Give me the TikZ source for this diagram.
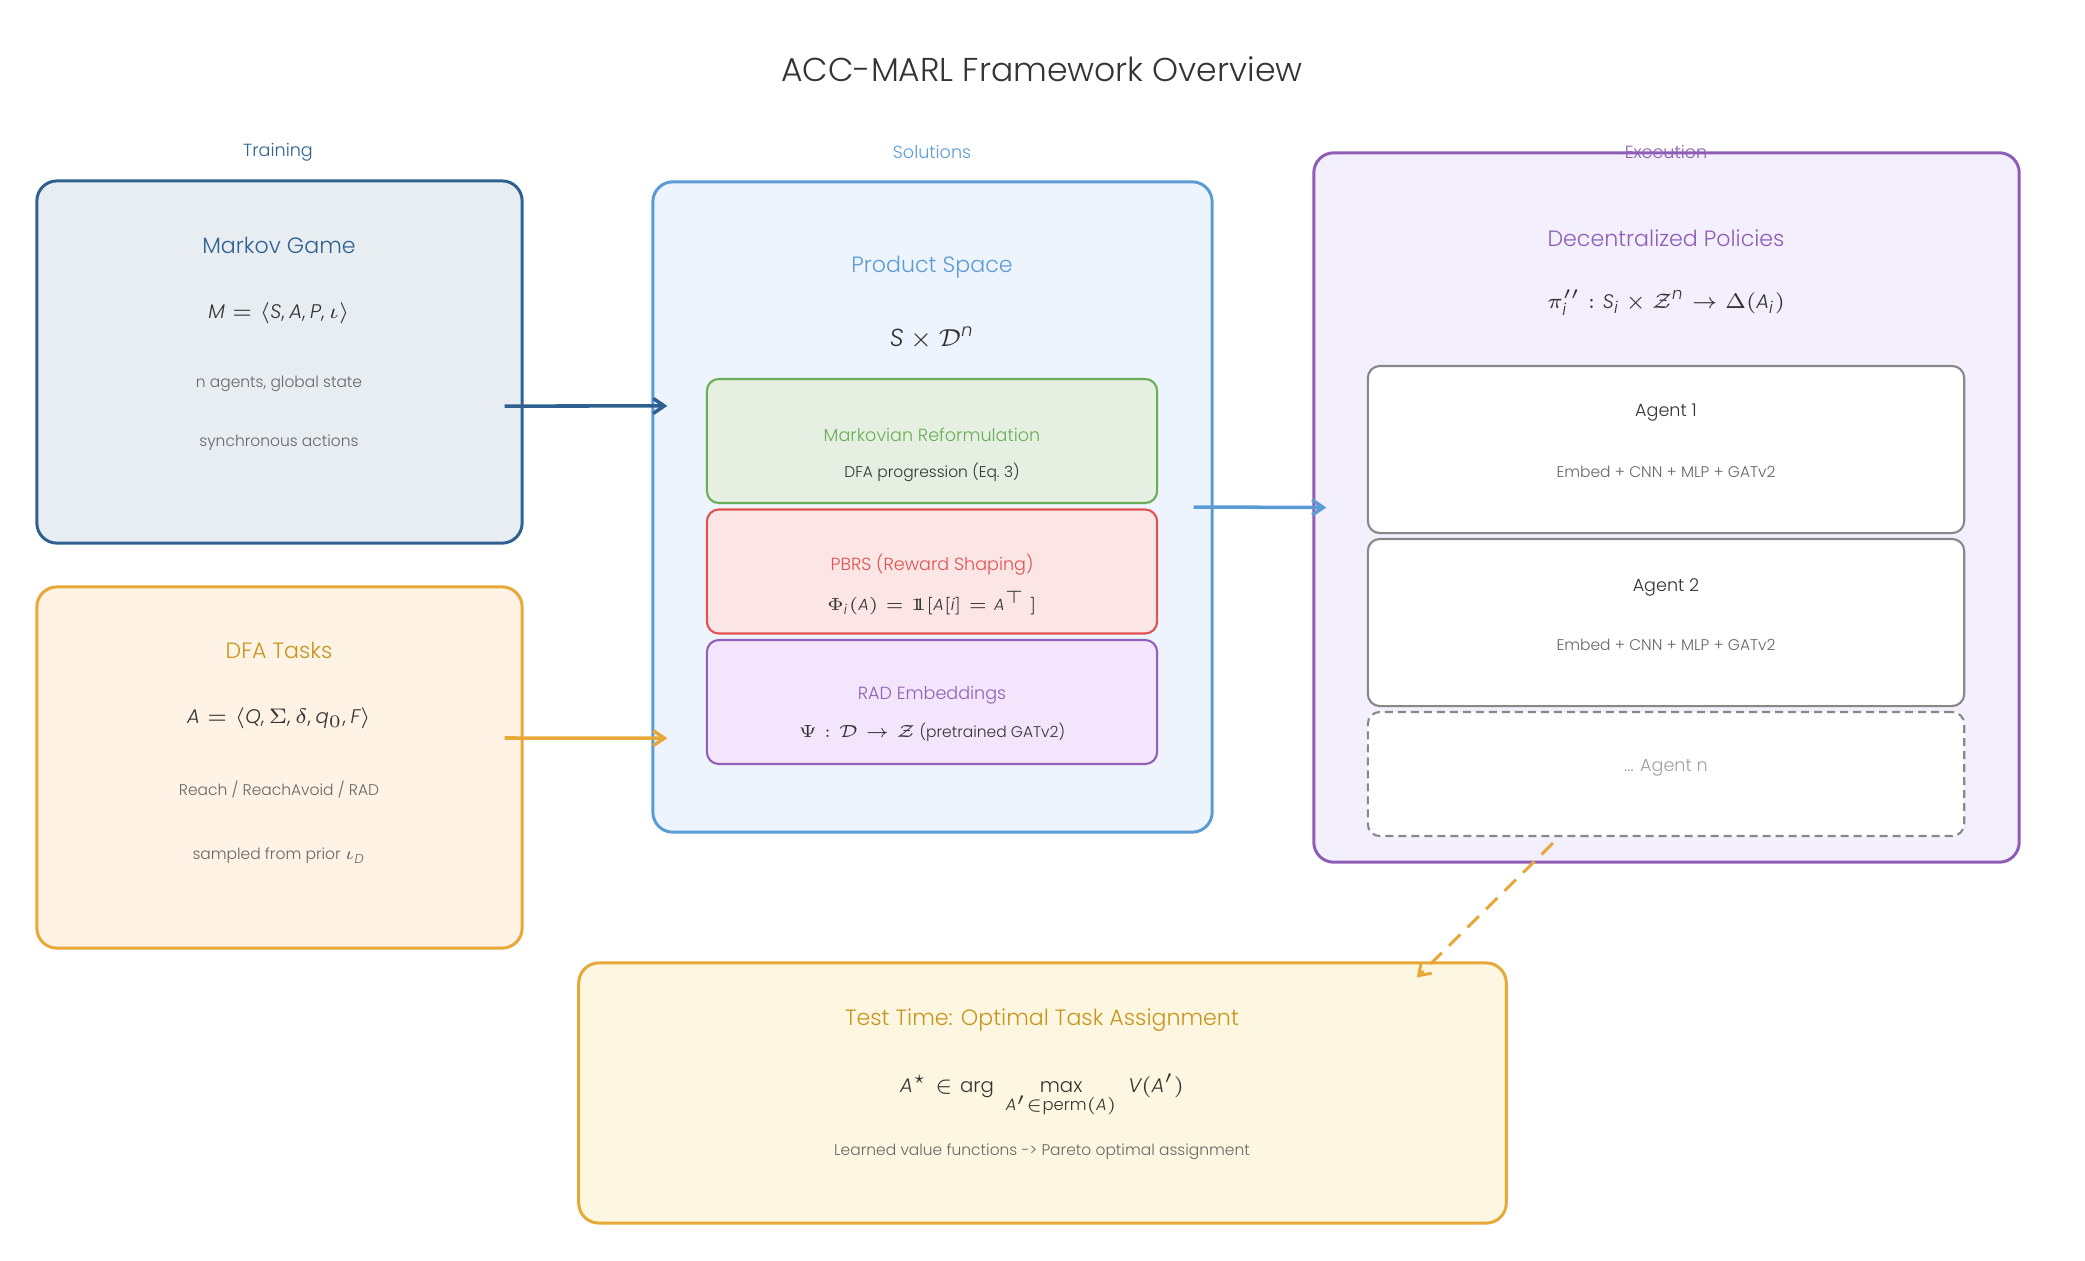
\documentclass[tikz,border=0pt]{standalone}
\usepackage{amsmath,amssymb}
\usepackage{fontspec}
\setmainfont{Poppins}[UprightFont=* Light, ItalicFont=* Light Italic, BoldFont=* Medium]
\usepackage[italic]{mathastext}
\usetikzlibrary{arrows.meta}

\definecolor{mkblue}{HTML}{2E6190}
\definecolor{mkfill}{HTML}{E8EDF2}
\definecolor{dfaorg}{HTML}{E8A838}
\definecolor{dfafill}{HTML}{FEF3E5}
\definecolor{gold}{HTML}{C8951E}
\definecolor{solblue}{HTML}{5B9BD5}
\definecolor{solfill}{HTML}{EEF4FE}
\definecolor{mgreen}{HTML}{6AAE55}
\definecolor{mgfill}{HTML}{E5F0E3}
\definecolor{pred}{HTML}{E05252}
\definecolor{prfill}{HTML}{FBE6E5}
\definecolor{rpurp}{HTML}{9060B8}
\definecolor{rpfill}{HTML}{F3E5FB}
\definecolor{expurp}{HTML}{8E5DB5}
\definecolor{exfill}{HTML}{F3EFFD}
\definecolor{agray}{HTML}{888888}
\definecolor{tfill}{HTML}{FDF6E0}
\definecolor{txtgray}{HTML}{666666}
\definecolor{ink}{HTML}{333333}

\begin{document}
\begin{tikzpicture}[x=0.01cm, y=-0.01cm,
  panel/.style={rectangle, rounded corners=2mm, line width=0.85pt},
  blk/.style={rectangle, rounded corners=1.2mm, line width=0.6pt,
              minimum width=4.5cm, minimum height=1.24cm},
  agt/.style={blk, draw=agray, fill=white, minimum width=5.96cm, minimum height=1.67cm},
  ttl/.style={font=\fontsize{9.4}{11}\selectfont, text=ink},
  sec/.style={font=\fontsize{5}{6}\selectfont},
  hd/.style={font=\fontsize{6.3}{8}\selectfont},
  ihd/.style={font=\fontsize{5}{6}\selectfont},
  txt/.style={font=\fontsize{4.4}{5}\selectfont, text=txtgray},
  fml/.style={font=\fontsize{5.6}{7}\selectfont, text=ink},
  flow/.style={-{Straight Barb[length=1.1mm,width=1.5mm]}, line width=1pt}
]
\useasboundingbox (0,0) rectangle (2085,1260);

\node[ttl] (title) at (1042,69) {ACC-MARL Framework Overview};
\node[sec, text=mkblue]  (ltrain) at (278,152)  {Training};
\node[sec, text=solblue] (lsol)   at (932,152)  {Solutions};

% training side
\node[panel, draw=mkblue, fill=mkfill, minimum width=4.85cm, minimum height=3.62cm] (markov) at (279.5,362) {};
\node[hd, text=mkblue] (markovt) at (279,245) {Markov Game};
\node[fml] (markovf) at (279,313) {$M = \langle S, A, P, \iota \rangle$};
\node[txt] (markov1) at (279,384) {n agents, global state};
\node[txt] (markov2) at (279,443) {synchronous actions};

\node[panel, draw=dfaorg, fill=dfafill, minimum width=4.85cm, minimum height=3.61cm] (dfa) at (279.5,767.5) {};
\node[hd, text=gold] (dfat) at (279,650) {DFA Tasks};
\node[fml] (dfaf) at (279,718) {$A = \langle Q, \Sigma, \delta, q_0, F \rangle$};
\node[txt] (dfa1) at (279,789) {Reach / ReachAvoid / RAD};
\node[txt] (dfa2) at (279,856) {sampled from prior $\iota_D$};

% solutions
\node[panel, draw=solblue, fill=solfill, minimum width=5.59cm, minimum height=6.5cm] (sol) at (932.5,507) {};
\node[hd, text=solblue] (solt) at (932,267) {Product Space};
\node[fml, font=\fontsize{7}{8}\selectfont] (solf) at (932,338) {$S \times \mathcal{D}^n$};

\node[blk, draw=mgreen, fill=mgfill] (markovian) at (932,441) {};
\node[ihd, text=mgreen] at (932,435) {Markovian Reformulation};
\node[txt, text=ink] at (932,472) {DFA progression (Eq.~3)};

\node[blk, draw=pred, fill=prfill] (pbrs) at (932,571.5) {};
\node[ihd, text=pred] at (932,565) {PBRS (Reward Shaping)};
\node[fml, font=\fontsize{4.6}{5}\selectfont] at (932,603) {$\Phi_i(A) = 1\!\!1[A[i] = A^{\top}\,]$};

\node[blk, draw=rpurp, fill=rpfill] (rad) at (932,702) {};
\node[ihd, text=rpurp] at (932,695) {RAD Embeddings};
\node[txt, text=ink] at (932,732) {$\Psi : \mathcal{D} \rightarrow \mathcal{Z}$ (pretrained GATv2)};

% execution
\node[panel, draw=expurp, fill=exfill, minimum width=7.05cm, minimum height=7.09cm] (exec) at (1666.5,507.5) {};
\node[sec, text=expurp] (lexec) at (1666,152) {Execution};
\node[hd, text=expurp] (exect) at (1666,238) {Decentralized Policies};
\node[fml] (execf) at (1666,303) {$\pi_i'' : S_i \times \mathcal{Z}^n \rightarrow \Delta(A_i)$};

\node[agt] (agent1) at (1666,449.5) {};
\node[ihd, text=ink] at (1666,413) {Agent 1};
\node[txt] at (1666,472) {Embed + CNN + MLP + GATv2};
\node[agt] (agent2) at (1666,622.5) {};
\node[ihd, text=ink] at (1666,587) {Agent 2};
\node[txt] at (1666,645) {Embed + CNN + MLP + GATv2};
\node[agt, minimum height=1.24cm, dash pattern=on 0.8mm off 0.5mm] (agentn) at (1666,774) {};
\node[ihd, text=agray!80] at (1666,768) {... Agent n};

% test time
\node[panel, draw=dfaorg, fill=tfill, minimum width=9.27cm, minimum height=2.6cm] (test) at (1042.5,1093) {};
\node[hd, text=gold] (testt) at (1042,1020) {Test Time: Optimal Task Assignment};
\node[fml, anchor=base] (testf) at (1042,1092)
  {$A^{\star} \in \arg\;\max\limits_{A' \in \mathrm{perm}(A)}\; V(A')$};
\node[txt] (test1) at (1042,1152) {Learned value functions -> Pareto optimal assignment};

% arrows
\draw[flow, mkblue] ([xshift=-1.9mm,yshift=-4.4mm]markov.east) -- ([xshift=1.6mm,yshift=10.1mm]sol.west);
\draw[flow, dfaorg] ([xshift=-1.9mm,yshift=2.95mm]dfa.east) -- ([xshift=1.6mm,yshift=-23.1mm]sol.west);
\draw[flow, solblue] ([xshift=-2mm]sol.east) -- ([xshift=1.4mm]exec.west);
\draw[flow, dfaorg, line width=0.85pt, dash pattern=on 1.6mm off 1mm]
  ([xshift=-11.3mm,yshift=-0.6mm]agentn.south) -- ([xshift=-9.1mm,yshift=-1.6mm]test.north east);
\end{tikzpicture}
\end{document}
